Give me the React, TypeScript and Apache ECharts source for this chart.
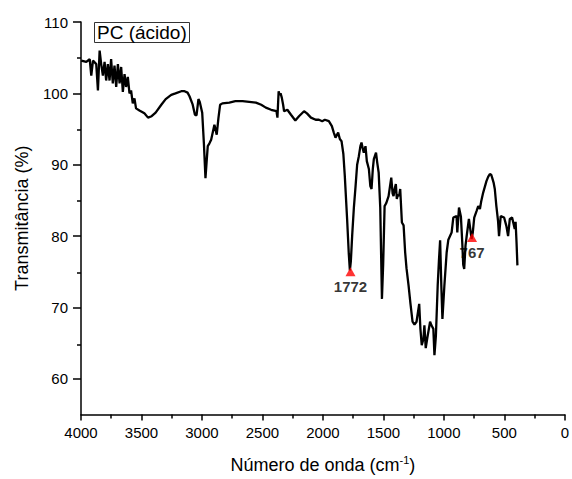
import React, { useEffect, useRef } from "react";
import * as echarts from "echarts";

// FT-IR spectrum: wavenumber (cm-1) and transmittance (%)
const wavenumbers = [
  3998, 3956, 3928, 3915, 3901, 3874, 3860, 3846, 3833, 3819, 3805, 3792, 3778, 3764, 3751,
  3737, 3723, 3709, 3695, 3681, 3668, 3654, 3640, 3627, 3613, 3599, 3586, 3572, 3558, 3545,
  3517, 3476, 3446, 3416, 3383, 3336, 3300, 3254, 3219, 3171, 3144, 3119, 3103, 3078, 3058,
  3045, 3029, 3018, 2998, 2984, 2971, 2959, 2952, 2938, 2924, 2897, 2878, 2864, 2850, 2831,
  2774, 2724, 2664, 2609, 2554, 2510, 2472, 2428, 2384, 2376, 2366, 2358, 2350, 2340, 2329,
  2321, 2294, 2264, 2228, 2198, 2156, 2132, 2099, 2060, 2033, 2006, 1984, 1951, 1926, 1910,
  1896, 1874, 1860, 1846, 1831, 1819, 1800, 1786, 1777, 1769, 1758, 1744, 1730, 1717, 1703,
  1690, 1681, 1670, 1662, 1648, 1637, 1620, 1608, 1598, 1587, 1579, 1561, 1551, 1539, 1526,
  1512, 1502, 1490, 1477, 1457, 1435, 1424, 1416, 1407, 1397, 1389, 1380, 1370, 1361, 1347,
  1333, 1320, 1309, 1292, 1276, 1259, 1243, 1226, 1204, 1194, 1183, 1169, 1161, 1150, 1136,
  1114, 1103, 1087, 1078, 1066, 1051, 1041, 1031, 1021, 1012, 996, 977, 963, 936, 922,
  895, 889, 875, 859, 848, 840, 832, 821, 813, 793, 782, 771, 761, 749, 730,
  716, 702, 692, 675, 648, 634, 620, 609, 601, 589, 579, 566, 552, 544, 530,
  502, 483, 469, 455, 436, 414, 407, 399, 392,
];
const transmittance = [
  104.6, 104.4, 104.8, 102.5, 104.6, 104.1, 100.4, 106.0, 104.1, 102.5, 104.4, 101.8, 104.1, 101.8, 104.8,
  101.4, 103.9, 100.9, 104.1, 101.4, 103.7, 100.2, 102.7, 100.9, 102.3, 100.0, 100.4, 98.6, 99.3, 97.9,
  97.6, 97.2, 96.6, 96.8, 97.3, 98.4, 99.2, 99.8, 100.0, 100.3, 100.3, 100.1, 99.6, 98.5, 97.0,
  96.9, 99.2, 98.8, 97.3, 93.0, 88.1, 91.0, 92.6, 93.0, 93.5, 95.6, 94.2, 96.5, 98.4, 98.6,
  98.7, 98.9, 98.9, 98.8, 98.7, 98.4, 98.0, 97.7, 97.5, 96.6, 100.3, 99.8, 100.0, 99.4, 98.4,
  97.5, 97.7, 97.0, 96.2, 96.8, 97.5, 97.2, 96.6, 96.3, 96.3, 96.1, 96.3, 96.1, 95.4, 94.5,
  93.8, 94.5, 93.6, 93.3, 91.5, 88.4, 82.4, 77.5, 75.2, 76.5, 80.1, 84.0, 87.0, 90.0, 91.2,
  92.6, 93.1, 92.2, 91.7, 92.6, 90.5, 89.4, 87.0, 86.6, 89.5, 90.8, 91.7, 90.3, 88.9, 84.0,
  71.2, 76.0, 84.2, 84.6, 85.6, 88.2, 86.0, 85.6, 86.6, 87.3, 85.2, 85.8, 85.6, 86.6, 81.9,
  81.5, 77.7, 75.5, 73.1, 70.5, 68.0, 67.6, 68.0, 70.5, 67.0, 64.7, 65.6, 67.5, 64.3, 65.8,
  68.0, 67.5, 67.0, 63.3, 66.0, 73.1, 76.5, 79.4, 73.0, 68.4, 73.0, 77.7, 79.5, 80.5, 82.6,
  82.8, 80.5, 84.0, 82.7, 79.1, 76.0, 75.4, 78.7, 79.8, 82.4, 81.0, 79.6, 80.5, 82.6, 83.5,
  84.2, 83.8, 84.8, 86.1, 87.7, 88.3, 88.7, 88.6, 88.2, 87.5, 86.6, 84.2, 82.1, 80.0, 82.8,
  82.6, 81.4, 80.0, 82.4, 82.6, 81.0, 82.0, 79.0, 75.9,
];

// Marked peaks
const peakWavenumbers = [1772, 767];
const peakValues = [75, 79.8];

const xTickInterval = 500;
const yMajorTicks = [60, 70, 80, 90, 100, 110];
const yMinorTicks = [65, 75, 85, 95, 105];
const legendLabel = "PC (ácido)";
const xAxisTitle = "Número de onda (cm{sup|-1})";
const yAxisTitle = "Transmitância (%)";

const FONT = "'Liberation Sans', Arial, sans-serif";

export default function App() {
  const ref = useRef<HTMLDivElement>(null);

  useEffect(() => {
    if (!ref.current) return;
    const chart = echarts.init(ref.current, undefined, { renderer: "svg" });
    const lineData = wavenumbers.map((w, i) => [w, transmittance[i]]);
    const peakData = peakWavenumbers.map((w, i) => [w, peakValues[i]]);
    const gridBox = { left: 81, right: 5, top: 22, bottom: 63 };

    chart.setOption({
      animation: false,
      backgroundColor: "#ffffff",
      textStyle: { fontFamily: FONT },
      title: {
        text: legendLabel,
        left: 94,
        top: 22,
        padding: [1, 3, 1, 3],
        borderColor: "#333",
        borderWidth: 1,
        textStyle: { fontFamily: FONT, fontSize: 19, fontWeight: "normal", color: "#000" },
      },
      grid: [gridBox, gridBox],
      xAxis: [
        {
          type: "value",
          gridIndex: 0,
          inverse: true,
          min: 0,
          max: 4000,
          interval: xTickInterval,
          name: xAxisTitle,
          nameLocation: "middle",
          nameGap: 40,
          nameTextStyle: {
            fontFamily: FONT,
            fontSize: 18,
            color: "#000",
            rich: {
              sup: { fontFamily: FONT, fontSize: 11, color: "#000", verticalAlign: "top", padding: [0, 0, 10, 0] },
            },
          },
          axisLine: { show: true, onZero: false, lineStyle: { color: "#000", width: 1.5 } },
          axisTick: { show: true, inside: false, length: 6, lineStyle: { color: "#000", width: 1.5 } },
          minorTick: { show: true, splitNumber: 2, length: 4, lineStyle: { color: "#000", width: 1.5 } },
          axisLabel: {
            fontFamily: FONT,
            fontSize: 15,
            color: "#000",
            margin: 10,
            formatter: (v: number) => String(v),
          },
          splitLine: { show: false },
        },
        {
          type: "value",
          gridIndex: 1,
          inverse: true,
          min: 0,
          max: 4000,
          show: false,
        },
      ],
      yAxis: [
        {
          type: "value",
          gridIndex: 0,
          min: 55,
          max: 110,
          position: "left",
          name: yAxisTitle,
          nameLocation: "middle",
          nameGap: 50,
          nameRotate: 90,
          nameTextStyle: { fontFamily: FONT, fontSize: 18, color: "#000" },
          axisLine: { show: true, onZero: false, lineStyle: { color: "#000", width: 1.5 } },
          axisTick: { show: true, length: 8, customValues: yMajorTicks, lineStyle: { color: "#000", width: 1.5 } },
          axisLabel: { fontFamily: FONT, fontSize: 15, color: "#000", margin: 13, customValues: yMajorTicks },
          splitLine: { show: false },
        },
        {
          type: "value",
          gridIndex: 1,
          min: 55,
          max: 110,
          position: "left",
          axisLine: { show: false, onZero: false },
          axisTick: { show: true, length: 4, customValues: yMinorTicks, lineStyle: { color: "#000", width: 1.5 } },
          axisLabel: { show: false },
          splitLine: { show: false },
        },
      ],
      series: [
        {
          type: "line",
          data: lineData,
          xAxisIndex: 0,
          yAxisIndex: 0,
          symbol: "none",
          lineStyle: { color: "#000", width: 2.3 },
          silent: true,
          z: 2,
        },
        {
          type: "scatter",
          data: peakData,
          xAxisIndex: 0,
          yAxisIndex: 0,
          symbol: "triangle",
          symbolSize: [10, 9],
          itemStyle: { color: "#ff0000" },
          label: {
            show: true,
            position: "bottom",
            distance: 3,
            formatter: (p: any) => String(p.value[0]),
            fontFamily: FONT,
            fontSize: 15,
            fontWeight: "bold",
            color: "#000",
          },
          z: 3,
        },
      ],
    });

    return () => chart.dispose();
  }, []);

  return (
    <div
      ref={ref}
      style={{ position: "fixed", left: 0, top: 0, width: 572, height: 479, background: "#fff" }}
    />
  );
}
